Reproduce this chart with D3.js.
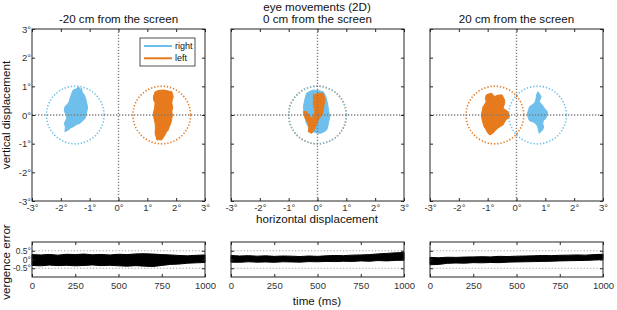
<!DOCTYPE html>
<html>
<head>
<meta charset="utf-8">
<script src="https://cdn.jsdelivr.net/npm/d3@7"></script>
<style>
    body { margin: 0; background: #fff; }
    svg { display: block; font-family: "Liberation Sans", Arial, sans-serif; }
</style>
</head>
<body>
<div id="chart"></div>
<script>
// ---- data ----
const panelTitles = ["-20 cm from the screen", "0 cm from the screen", "20 cm from the screen"]
const degTicks = [-3, -2, -1, 0, 1, 2, 3]
const rightCircleX = [-1.5, 0, 0.73]
const leftCircleX = [1.5, 0, -0.75]

// outlines of the fixation clouds, [x deg, y deg]
const rightClouds = [
    [[-1.57,0.87],[-1.45,0.92],[-1.39,0.99],[-1.33,0.90],[-1.28,0.93],[-1.26,0.80],[-1.20,0.72],[-1.16,0.64],
     [-1.12,0.50],[-1.10,0.41],[-1.07,0.25],[-1.10,0.12],[-1.12,0],[-1.16,-0.12],[-1.26,-0.22],[-1.34,-0.29],
     [-1.45,-0.33],[-1.57,-0.41],[-1.66,-0.45],[-1.74,-0.52],[-1.86,-0.58],[-1.84,-0.42],[-1.88,-0.29],
     [-1.80,-0.12],[-1.80,0],[-1.88,0.12],[-1.86,0.29],[-1.74,0.41],[-1.70,0.50],[-1.68,0.58],[-1.64,0.70],
     [-1.62,0.76]],
    [[-0.38,0.76],[-0.25,0.83],[-0.15,0.87],[0.05,0.85],[0.20,0.81],[0.28,0.66],[0.32,0.52],[0.36,0.33],
     [0.38,0.17],[0.43,-0.06],[0.40,-0.18],[0.38,-0.29],[0.35,-0.42],[0.32,-0.52],[0.20,-0.60],[0.09,-0.64],
     [-0.05,-0.62],[-0.15,-0.58],[-0.26,-0.50],[-0.32,-0.41],[-0.40,-0.24],[-0.43,-0.06],[-0.47,0.12],
     [-0.49,0.29],[-0.46,0.44],[-0.43,0.58]],
    [[0.74,0.81],[0.80,0.74],[0.85,0.64],[0.79,0.46],[0.90,0.34],[0.97,0.23],[1.05,0.14],[1.08,0.06],
     [1.02,-0.12],[0.93,-0.20],[0.91,-0.30],[0.94,-0.42],[0.91,-0.52],[0.84,-0.58],[0.79,-0.64],[0.76,-0.52],
     [0.74,-0.41],[0.66,-0.30],[0.58,-0.24],[0.45,-0.20],[0.40,-0.08],[0.38,0.06],[0.42,0.18],[0.45,0.29],
     [0.55,0.36],[0.62,0.41],[0.66,0.50],[0.68,0.58],[0.70,0.72]]
]
const leftClouds = [
    [[1.27,0.81],[1.40,0.86],[1.56,0.87],[1.72,0.84],[1.85,0.81],[1.90,0.64],[1.86,0.52],[1.85,0.41],
     [1.88,0.25],[1.85,0.12],[1.87,0],[1.85,-0.12],[1.83,-0.24],[1.79,-0.35],[1.75,-0.44],[1.73,-0.52],
     [1.66,-0.60],[1.61,-0.70],[1.56,-0.78],[1.50,-0.87],[1.40,-0.86],[1.33,-0.87],[1.30,-0.75],[1.27,-0.64],
     [1.28,-0.45],[1.27,-0.29],[1.23,-0.12],[1.21,0.06],[1.25,0.24],[1.27,0.41],[1.22,0.52],[1.21,0.64]],
    [[-0.15,0.70],[0.02,0.75],[0.20,0.76],[0.26,0.52],[0.22,0.32],[0.20,0.17],[0.15,0],[0.03,-0.17],
     [-0.03,-0.32],[-0.09,-0.46],[-0.14,-0.56],[-0.20,-0.64],[-0.32,-0.58],[-0.30,-0.44],[-0.32,-0.29],
     [-0.43,-0.12],[-0.49,0.12],[-0.38,0.12],[-0.30,0],[-0.20,-0.12],[-0.12,0],[-0.09,0.12],[-0.12,0.28],
     [-0.15,0.41],[-0.13,0.56]],
    [[-1.05,0.70],[-0.95,0.74],[-0.87,0.76],[-0.80,0.70],[-0.76,0.64],[-0.68,0.68],[-0.59,0.70],[-0.50,0.70],
     [-0.47,0.64],[-0.41,0.52],[-0.41,0.41],[-0.47,0.23],[-0.38,0.18],[-0.30,0.12],[-0.24,-0.06],[-0.36,-0.17],
     [-0.42,-0.26],[-0.47,-0.35],[-0.56,-0.40],[-0.65,-0.46],[-0.74,-0.55],[-0.82,-0.64],[-0.93,-0.70],
     [-1.00,-0.62],[-1.05,-0.52],[-1.12,-0.42],[-1.16,-0.29],[-1.20,-0.14],[-1.22,0],[-1.19,0.15],
     [-1.16,0.29],[-1.10,0.38],[-1.05,0.46],[-1.08,0.58]]
]

const timeMs = [0,50,100,150,200,250,300,350,400,450,500,550,600,650,700,750,800,850,900,950,1000]
const timeTicks = [0, 250, 500, 750, 1000]
const vergTicks = [-0.5, 0, 0.5]
// upper / lower edge of the vergence error traces (deg)
const vergUpper = [
    [0.28,0.26,0.29,0.25,0.30,0.28,0.31,0.27,0.29,0.26,0.30,0.28,0.32,0.33,0.31,0.28,0.26,0.23,0.21,0.24,0.26],
    [0.23,0.20,0.22,0.19,0.21,0.18,0.20,0.19,0.17,0.20,0.18,0.21,0.23,0.22,0.25,0.26,0.28,0.32,0.35,0.38,0.40],
    [0.12,0.10,0.13,0.12,0.14,0.15,0.16,0.15,0.18,0.17,0.19,0.20,0.21,0.23,0.22,0.24,0.25,0.26,0.25,0.28,0.30]
]
const vergLower = [
    [-0.34,-0.36,-0.32,-0.35,-0.33,-0.36,-0.34,-0.31,-0.35,-0.33,-0.36,-0.38,-0.35,-0.38,-0.40,-0.34,-0.28,-0.26,-0.21,-0.19,-0.17],
    [-0.15,-0.16,-0.13,-0.15,-0.14,-0.16,-0.13,-0.14,-0.15,-0.12,-0.13,-0.11,-0.12,-0.10,-0.11,-0.08,-0.10,-0.06,-0.08,-0.05,-0.04],
    [-0.30,-0.28,-0.22,-0.20,-0.21,-0.18,-0.19,-0.17,-0.18,-0.15,-0.14,-0.13,-0.12,-0.11,-0.10,-0.08,-0.07,-0.06,-0.05,-0.03,-0.01]
]

const COLORS = { right: "#6ebfeb", left: "#e67a1c" }
const AXIS = "#262626"
const LABEL = "#333"

// ---- layout ----
const W = 617, H = 310
const panelLeft = [32, 231, 430]
const panelW = 173
const topPanel = { y: 29, h: 172 }
const botPanel = { y: 242, h: 35 }

const svg = d3.select("#chart").append("svg")
    .attr("width", W)
    .attr("height", H)

function styleAxis(g, showText, size) {
    g.select(".domain").remove()
    g.selectAll(".tick line").attr("stroke", AXIS)
    g.selectAll(".tick text")
        .attr("fill", LABEL)
        .style("font-size", (size || 9.5) + "px")
    if (!showText) g.selectAll(".tick text").remove()
}

// box with inward ticks on all four sides (matlab style)
function box(g, x, y, xTicks, yTicks, xFmt, yFmt, yLabels, pad, ySize) {
    const [x0, x1] = x.range()
    const [y1, y0] = y.range()
    g.append("g").attr("transform", `translate(0,${y1})`)
        .call(d3.axisBottom(x).tickValues(xTicks).tickFormat(xFmt).tickSizeInner(-3).tickSizeOuter(0).tickPadding(pad))
        .call(s => styleAxis(s, true))
    g.append("g").attr("transform", `translate(0,${y0})`)
        .call(d3.axisTop(x).tickValues(xTicks).tickSizeInner(-3).tickSizeOuter(0))
        .call(s => styleAxis(s, false))
    g.append("g").attr("transform", `translate(${x0},0)`)
        .call(d3.axisLeft(y).tickValues(yTicks).tickFormat(yFmt).tickSizeInner(-3).tickSizeOuter(0).tickPadding(1))
        .call(s => styleAxis(s, yLabels, ySize))
    g.append("g").attr("transform", `translate(${x1},0)`)
        .call(d3.axisRight(y).tickValues(yTicks).tickSizeInner(-3).tickSizeOuter(0))
        .call(s => styleAxis(s, false))
    g.append("rect")
        .attr("x", x0).attr("y", y0)
        .attr("width", x1 - x0).attr("height", y1 - y0)
        .attr("fill", "none")
        .attr("stroke", AXIS)
        .attr("stroke-width", 1)
}

const deg = d => d + "°"

panelTitles.forEach((title, i) => {
    /* TOP: 2D eye position */
    const x = d3.scaleLinear().domain([-3, 3]).range([panelLeft[i], panelLeft[i] + panelW])
    const y = d3.scaleLinear().domain([-3, 3]).range([topPanel.y + topPanel.h, topPanel.y])
    const g = svg.append("g")

    const cloud = d3.line()
        .x(d => x(d[0]))
        .y(d => y(d[1]))
        .curve(d3.curveLinearClosed)

    // target circles, radius 1 deg
    const circles = [[leftCircleX[i], COLORS.left], [rightCircleX[i], COLORS.right]]
    circles.forEach(([cx, color]) => {
        g.append("circle")
            .attr("cx", x(cx))
            .attr("cy", y(0))
            .attr("r", x(1) - x(0))
            .attr("fill", "none")
            .attr("stroke", color)
            .attr("stroke-width", 1.6)
            .attr("stroke-dasharray", "1.3,1.9")
    })

    g.append("path").attr("d", cloud(rightClouds[i]))
        .attr("fill", COLORS.right).attr("stroke", COLORS.right).attr("stroke-width", 1)
    g.append("path").attr("d", cloud(leftClouds[i]))
        .attr("fill", COLORS.left).attr("stroke", COLORS.left).attr("stroke-width", 1)

    // zero lines
    g.append("line")
        .attr("x1", x(-3)).attr("x2", x(3)).attr("y1", y(0)).attr("y2", y(0))
        .attr("stroke", "#7f7f7f").attr("stroke-width", 1.4).attr("stroke-dasharray", "1.3,1.7")
    g.append("line")
        .attr("x1", x(0)).attr("x2", x(0)).attr("y1", y(-3)).attr("y2", y(3))
        .attr("stroke", "#7f7f7f").attr("stroke-width", 1.4).attr("stroke-dasharray", "1.3,1.7")

    box(g, x, y, degTicks, degTicks, deg, deg, i === 0, 3)

    g.append("text")
        .attr("x", (x(-3) + x(3)) / 2)
        .attr("y", 23)
        .attr("text-anchor", "middle")
        .attr("fill", "#111")
        .style("font-size", "11.6px")
        .text(title)

    /* BOTTOM: vergence error */
    const t = d3.scaleLinear().domain([0, 1000]).range([panelLeft[i], panelLeft[i] + panelW])
    const v = d3.scaleLinear().domain([-1, 1]).range([botPanel.y + botPanel.h, botPanel.y])
    const gb = svg.append("g")

    vergTicks.filter(d => d !== 0).forEach(d => {
        gb.append("line")
            .attr("x1", t(0)).attr("x2", t(1000)).attr("y1", v(d)).attr("y2", v(d))
            .attr("stroke", "#a6a6a6").attr("stroke-width", 1.1).attr("stroke-dasharray", "1.3,1.9")
    })

    const rows = timeMs.map((ms, k) => ({ ms, hi: vergUpper[i][k], lo: vergLower[i][k] }))
    gb.append("path")
        .datum(rows)
        .attr("d", d3.area().x(d => t(d.ms)).y0(d => v(d.lo)).y1(d => v(d.hi)))
        .attr("fill", "#000")
        .attr("stroke", "#000")
        .attr("stroke-width", 1)
        .attr("stroke-linejoin", "round")

    box(gb, t, v, timeTicks, vergTicks, d => d, deg, i === 0, 5, 8.5)
})

// legend
const legend = svg.append("g")
legend.append("rect")
    .attr("x", 140).attr("y", 38).attr("width", 55).attr("height", 28)
    .attr("fill", "#fff").attr("stroke", AXIS).attr("stroke-width", 0.8)
const legendItems = [["right", COLORS.right], ["left", COLORS.left]]
legendItems.forEach(([name, color], k) => {
    const ly = 46 + k * 12.3
    legend.append("line")
        .attr("x1", 144).attr("x2", 172).attr("y1", ly).attr("y2", ly)
        .attr("stroke", color).attr("stroke-width", 2)
    legend.append("text")
        .attr("x", 175).attr("y", ly + 3)
        .attr("fill", "#111")
        .style("font-size", "9px")
        .text(name)
})

// shared labels
const label = (txt, xx, yy, rot) => svg.append("text")
    .attr("transform", `translate(${xx},${yy})` + (rot ? " rotate(-90)" : ""))
    .attr("text-anchor", "middle")
    .attr("fill", "#111")
    .style("font-size", "11.6px")
    .text(txt)

label("eye movements (2D)", 317, 10.5)
label("horizontal displacement", 317, 223)
label("time (ms)", 317, 305)
label("vertical displacement", 10, 115, true)
label("vergence error", 9.5, 262, true)
</script>
</body>
</html>
